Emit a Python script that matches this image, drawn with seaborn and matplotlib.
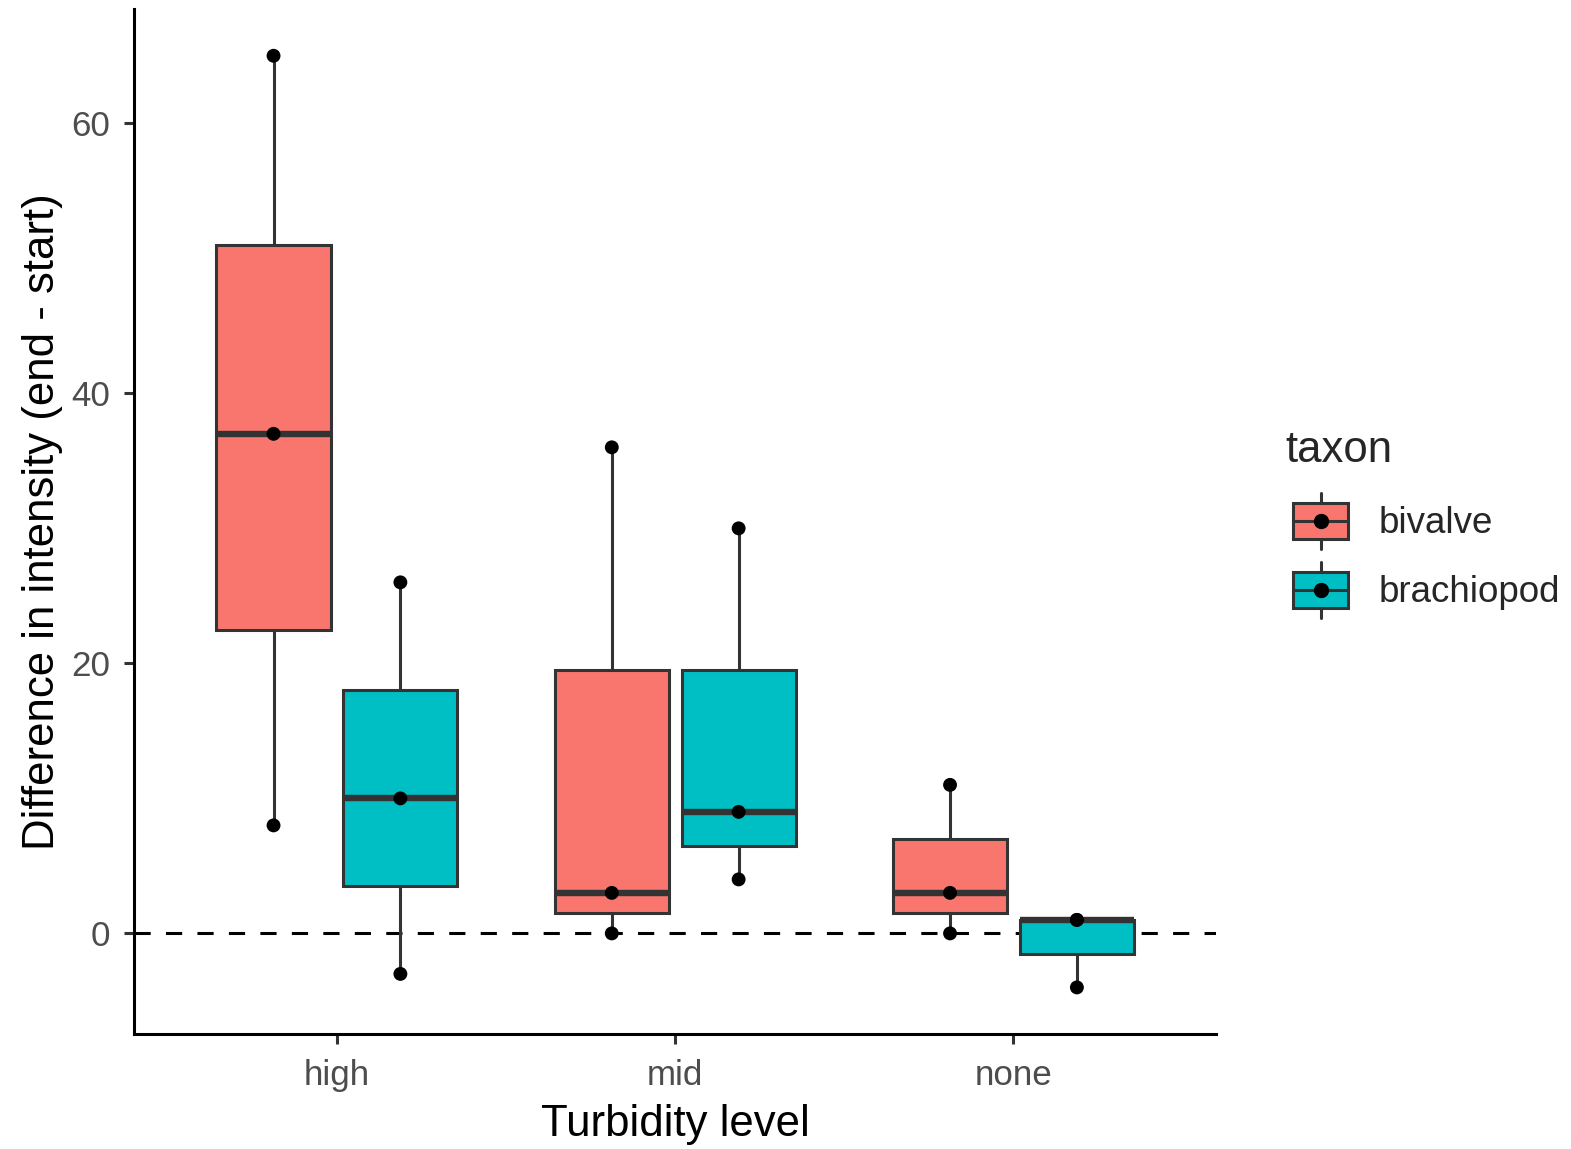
import matplotlib
matplotlib.use('agg')
import matplotlib.pyplot as plt
import seaborn as sns
import pandas as pd
from matplotlib.patches import Patch, Rectangle
from matplotlib.lines import Line2D
from matplotlib.legend_handler import HandlerBase

levels = ["high", "mid", "none"]
taxa = ["bivalve", "brachiopod"]
bivalve = {"high": [8, 37, 65], "mid": [0, 3, 36], "none": [0, 3, 11]}
brachiopod = {"high": [-3, 10, 26], "mid": [4, 9, 30], "none": [-4, 1, 1]}
colors = ["#F8766D", "#00BFC4"]

rows = []
for taxon, d in zip(taxa, [bivalve, brachiopod]):
    for lev in levels:
        for v in d[lev]:
            rows.append((lev, taxon, v))
df = pd.DataFrame(rows, columns=["turbidity", "taxon", "diff"])

edge = "#333333"
lw = 2.2


class BoxKey(HandlerBase):
    # ggplot-like legend key: box, median, whiskers and a point
    def create_artists(self, legend, orig_handle, xdescent, ydescent,
                       width, height, fontsize, trans):
        x0, y0 = -xdescent + 5.8, -ydescent
        bh = height * 0.64
        by = y0 + (height - bh) / 2
        cx, cy = x0 + width / 2, y0 + height / 2
        rect = Rectangle((x0, by), width, bh, facecolor=orig_handle.get_facecolor(),
                         edgecolor=edge, lw=lw, transform=trans)
        wu = Line2D([cx, cx], [by + bh, y0 + height], color=edge, lw=lw, transform=trans)
        wl = Line2D([cx, cx], [y0, by], color=edge, lw=lw, transform=trans)
        med = Line2D([x0, x0 + width], [cy, cy], color=edge, lw=lw, transform=trans)
        dot = Line2D([cx], [cy], marker="o", ms=10, color="black", ls="none", transform=trans)
        return [wu, wl, rect, med, dot]


sns.set_style("ticks")
plt.rcParams['font.family'] = ['Liberation Sans', 'DejaVu Sans']

fig = plt.figure(figsize=(15.71, 11.49), dpi=100)
ax = fig.add_axes([0.0853, 0.1001, 0.689, 0.8919])

ax.axhline(0, color="black", lw=2.2, ls=(0, (5.3, 5.0)), zorder=0.5)

sns.boxplot(data=df, x="turbidity", y="diff", hue="taxon", order=levels, hue_order=taxa,
            palette=colors, width=0.75, gap=0.1, linecolor=edge, linewidth=lw,
            showfliers=False, showcaps=False, whis=1.5, saturation=1,
            medianprops=dict(linewidth=4.6, color=edge), ax=ax, legend=False)

sns.stripplot(data=df, x="turbidity", y="diff", hue="taxon", order=levels, hue_order=taxa,
              palette=["black", "black"], dodge=True, jitter=False, size=10,
              ax=ax, legend=False, zorder=5)
# match ggplot's dodge width (0.75) for the points
for coll in ax.collections:
    offs = coll.get_offsets()
    if len(offs):
        base = offs[:, 0].round()
        offs[:, 0] = base + (offs[:, 0] - base) * 0.1875 / 0.2
        coll.set_offsets(offs)

ax.set_xlim(-0.6, 2.6)
ax.set_ylim(-7.45, 68.45)
ax.set_yticks([0, 20, 40, 60])
ax.set_xlabel("Turbidity level", fontsize=31.5, color="black", labelpad=9)
ax.set_ylabel("Difference in intensity (end - start)", fontsize=31.5, color="black", labelpad=6)
ax.tick_params(axis="both", labelsize=25.2, labelcolor="#4D4D4D", color=edge,
               length=7, width=lw)
ax.tick_params(axis="x", pad=11)
ax.tick_params(axis="y", pad=10)
sns.despine(ax=ax)
for s in ["left", "bottom"]:
    ax.spines[s].set_linewidth(2.2)
    ax.spines[s].set_color("black")

handles = [Patch(facecolor=c) for c in colors]
leg = fig.legend(handles, taxa, title="taxon", loc="upper left",
                 bbox_to_anchor=(0.797, 0.655), frameon=False, fontsize=26.5,
                 title_fontsize=31.5, handlelength=1.5, handleheight=1.95,
                 handletextpad=1.04, labelspacing=0.35,
                 handler_map={Patch: BoxKey()})
leg._legend_box.align = "left"
leg._legend_box.sep = 16.5

plt.savefig("out.png", dpi=100)
plt.close()
